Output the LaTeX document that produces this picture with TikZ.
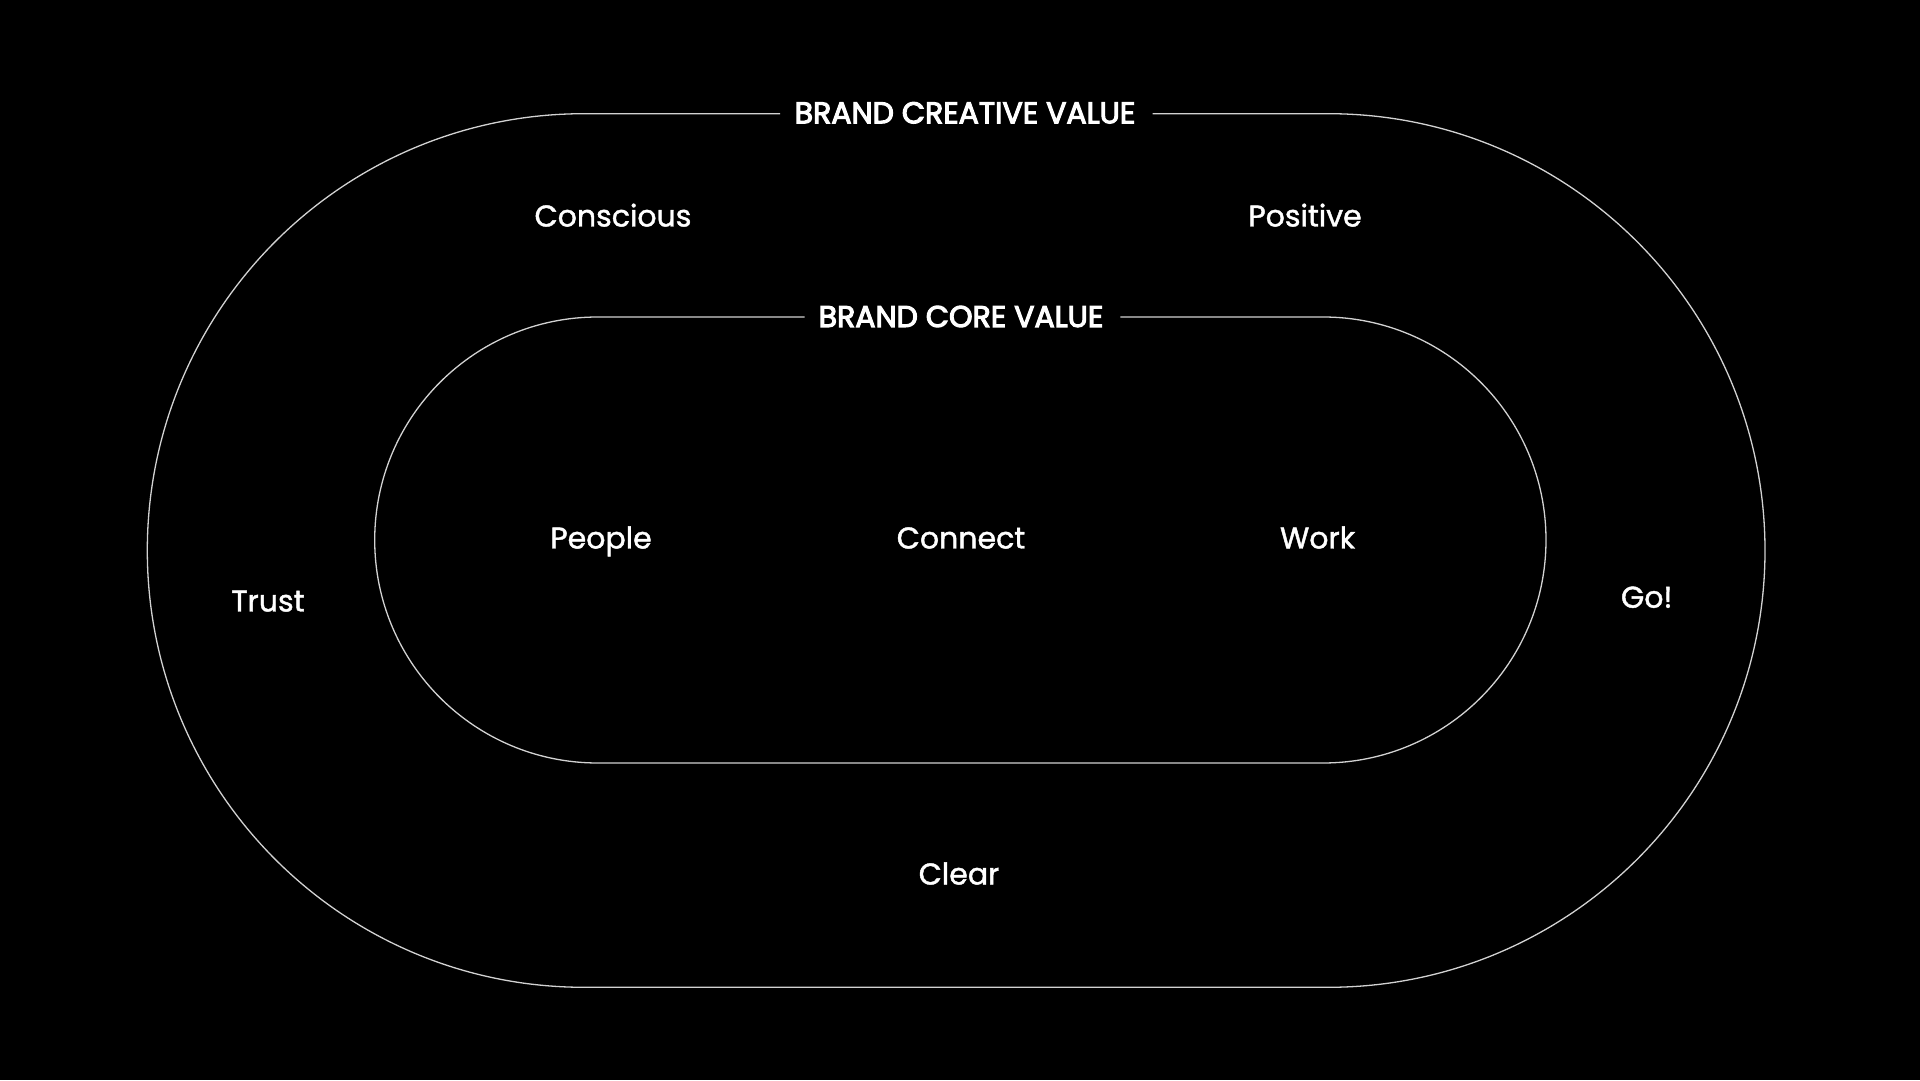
\documentclass[tikz,border=0pt]{standalone}
\usepackage{fontspec}
\setmainfont{Poppins}
\newfontfamily\labelfont{Poppins}[FakeBold=1.4]
\newfontfamily\headfont{Poppins}[FakeBold=3.6]
\definecolor{ringgray}{HTML}{D2D2D2}
\tikzset{
  ring/.style={draw=ringgray, line width=1.3pt},
  lbl/.style={text=white, anchor=base, inner sep=0pt, font=\labelfont\fontsize{30}{36}\selectfont},
  head/.style={text=white, anchor=base, inner sep=0pt, font=\headfont\fontsize{30}{36}\selectfont}
}
\begin{document}
\begin{tikzpicture}[x=1pt,y=1pt]
\fill[black] (0,0) rectangle (1920,1080);
\useasboundingbox (0,0) rectangle (1920,1080);
% outer ring
\draw[ring] (1152.7,966.3) -- (1328.2,966.3) arc[start angle=90,end angle=-90,radius=436.8]
  -- (584.1,92.7) arc[start angle=270,end angle=90,radius=436.8] -- (780,966.3);
% inner ring
\draw[ring] (1120.4,763) -- (1323,763) arc[start angle=90,end angle=-90,radius=223]
  -- (597.7,317) arc[start angle=270,end angle=90,radius=223] -- (804.5,763);
\node[head] (bcv) at (965,956.7) {BRAND CREATIVE VALUE};
\node[head] (bcore) at (961,753) {BRAND CORE VALUE};
\node[lbl] (conscious) at (613,853.5) {Conscious};
\node[lbl] (positive) at (1305,853.5) {Positive};
\node[lbl] (people) at (601,531.5) {People};
\node[lbl] (connect) at (961,531.5) {Connect};
\node[lbl] (work) at (1317.6,531.5) {Work};
\node[lbl] (trust) at (268,468.5) {Trust};
\node[lbl] (go) at (1646.7,472.3) {Go!};
\node[lbl] (clear) at (959,195.5) {Clear};
\end{tikzpicture}
\end{document}
